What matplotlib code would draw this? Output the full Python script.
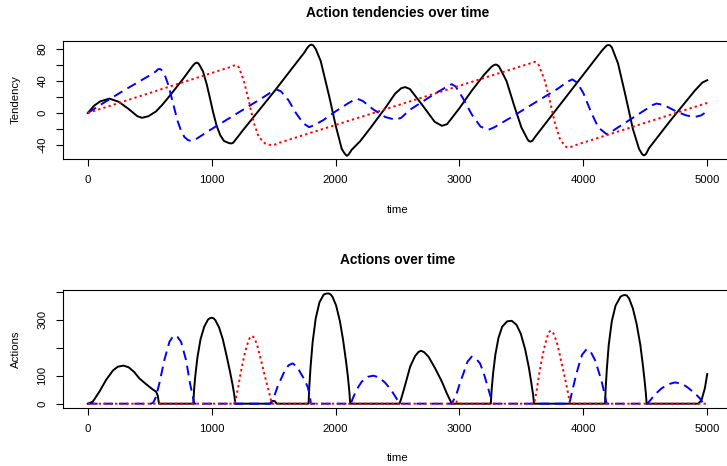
import matplotlib
matplotlib.use("Agg")
import matplotlib.pyplot as plt

plt.rcParams['font.family'] = ['Liberation Sans', 'DejaVu Sans']

# ---------------- data: action tendencies (time, value) ----------------
tend_black = [(0, 0), (50, 9), (100, 14.5), (175, 18), (250, 14), (330, 5), (400, -4), (438, -6), (490, -4),
              (551, 2), (600, 10), (659, 21), (766, 42), (847, 59), (865, 62), (879, 63), (893, 62), (905, 59),
              (930, 52), (960, 36), (990, 16), (1010, 2), (1040, -16), (1070, -28), (1100, -35), (1130, -37),
              (1145, -37.8), (1161, -38), (1175, -37), (1190, -34), (1250, -22), (1500, 26), (1750, 76),
              (1772, 81.5), (1790, 84.5), (1806, 85.5), (1820, 84.5), (1840, 80), (1880, 65), (1950, 20),
              (2000, -15), (2050, -45), (2075, -51), (2091, -53.5), (2105, -52), (2130, -46), (2200, -35),
              (2280, -19), (2400, 6), (2480, 24), (2530, 31), (2562, 32.4), (2600, 30), (2700, 10), (2800, -11),
              (2858, -16), (2900, -14), (2950, -4), (3000, 6), (3100, 28), (3200, 48), (3260, 58), (3280, 60),
              (3293, 60.6), (3305, 60), (3320, 58), (3380, 40), (3440, 10), (3500, -18), (3550, -33),
              (3560, -35), (3575, -35.8), (3590, -34.5), (3610, -30), (3800, 8), (4000, 48), (4150, 78),
              (4180, 83), (4190, 84.5), (4202, 85), (4215, 84.5), (4230, 82), (4280, 62), (4340, 22),
              (4400, -20), (4450, -45), (4475, -51.5), (4489, -53), (4505, -51.5), (4530, -44), (4700, -10),
              (4900, 28), (4960, 38), (5000, 41)]

tend_blue = [(0, 0), (100, 10), (300, 29), (500, 47), (550, 52), (565, 54.5), (578, 55), (590, 54.5),
             (600, 53), (625, 46), (650, 35), (675, 20), (700, 5), (725, -10), (750, -21), (780, -30),
             (810, -34), (841, -35), (880, -32), (1000, -20), (1200, -1), (1400, 18), (1480, 26), (1524, 29.5),
             (1560, 27), (1620, 16), (1680, 0), (1740, -13), (1787, -17.7), (1830, -15), (1900, -9), (2000, 2),
             (2100, 12), (2150, 16.5), (2177, 17.7), (2220, 15), (2300, 5), (2400, -5), (2481, -8.4),
             (2530, -6), (2600, 4), (2800, 24), (2900, 33), (2938, 36), (2970, 33), (3030, 18), (3100, -2),
             (3170, -17), (3234, -21), (3280, -18), (3400, -7), (3600, 12), (3800, 31), (3870, 39),
             (3911, 42), (3950, 38), (4000, 25), (4060, 2), (4120, -18), (4188, -26.5), (4230, -23),
             (4400, -6), (4500, 4), (4560, 10), (4591, 11.8), (4650, 10), (4750, 2), (4830, -3), (4900, -5),
             (4950, -3), (5000, 2)]

tend_red = [(0, 0), (1150, 57.5), (1180, 59.3), (1196, 60), (1208, 59), (1220, 57), (1260, 40), (1300, 15),
            (1340, -12), (1380, -30), (1430, -38), (1465, -39.7), (1486, -40), (1510, -39.5), (1550, -37),
            (3560, 61.5), (3595, 63.2), (3610, 64), (3622, 63), (3640, 60), (3690, 40), (3730, 15),
            (3770, -12), (3810, -32), (3850, -41), (3865, -42.7), (3879, -43), (3900, -42.4), (3930, -40.5),
            (5000, 12.6)]

# ---------------- data: actions (time, value) ----------------
act_black = [(0, 0), (40, 7), (94, 43), (148, 85), (202, 118), (242, 132), (288, 136), (330, 130),
             (375, 113), (417, 90), (470, 70), (524, 51), (551, 43), (565, 28), (575, 0),
             (852, 0), (858, 50), (868, 100), (885, 165), (910, 230), (940, 275), (970, 300), (985, 305),
             (1000, 307), (1015, 305), (1030, 298), (1060, 272), (1090, 230), (1120, 172), (1150, 110),
             (1170, 65), (1183, 30), (1191, 0),
             (1470, 0), (1490, 10), (1510, 9), (1525, 0),
             (1782, 0), (1788, 60), (1798, 130), (1815, 220), (1840, 305), (1870, 362), (1905, 390),
             (1925, 393), (1941, 394), (1958, 391), (1975, 382), (2005, 350), (2035, 295), (2060, 230),
             (2085, 150), (2100, 95), (2112, 40), (2118, 0),
             (2516, 0), (2530, 18), (2562, 67), (2602, 132), (2642, 170), (2670, 185), (2691, 189),
             (2715, 184), (2750, 168), (2804, 126), (2858, 79), (2898, 37), (2925, 12), (2938, 0),
             (3253, 0), (3260, 50), (3272, 110), (3290, 175), (3315, 235), (3345, 275), (3385, 294),
             (3422, 296), (3460, 282), (3495, 250), (3530, 195), (3560, 130), (3580, 75), (3595, 30),
             (3602, 0),
             (4175, 0), (4181, 60), (4190, 125), (4205, 210), (4230, 295), (4260, 350), (4300, 382),
             (4320, 387), (4336, 388), (4352, 386), (4370, 375), (4400, 340), (4430, 285), (4460, 210),
             (4480, 140), (4495, 80), (4505, 35), (4511, 0),
             (4927, 0), (4954, 13), (4981, 55), (5000, 106)]

act_blue = [(0, 0), (511, 0), (530, 5), (551, 25), (578, 73), (618, 156), (659, 221), (684, 238), (704, 244),
            (725, 238), (753, 221), (793, 156), (825, 73), (848, 25), (860, 0),
            (1478, 0), (1500, 20), (1532, 61), (1586, 114), (1620, 137), (1653, 144), (1690, 132),
            (1720, 108), (1750, 85), (1774, 61), (1790, 35), (1801, 0),
            (2124, 0), (2140, 20), (2170, 50), (2210, 78), (2260, 96), (2306, 100), (2350, 94), (2400, 75),
            (2450, 48), (2490, 20), (2516, 0),
            (2938, 0), (2955, 15), (2978, 37), (3005, 75), (3032, 108), (3065, 150), (3099, 168),
            (3135, 160), (3166, 144), (3195, 110), (3220, 73), (3248, 30), (3269, 0),
            (3887, 0), (3900, 25), (3919, 61), (3940, 100), (3960, 132), (3990, 175), (4027, 195),
            (4060, 185), (4094, 156), (4120, 120), (4148, 79), (4170, 38), (4188, 0),
            (4516, 0), (4540, 12), (4564, 25), (4600, 42), (4632, 55), (4690, 70), (4739, 76), (4790, 72),
            (4833, 61), (4870, 48), (4900, 37), (4941, 19), (4968, 0), (5000, 0)]

act_red = [(0, 0), (1183, 0), (1195, 20), (1210, 49), (1230, 100), (1250, 144), (1270, 185), (1290, 215),
           (1308, 236), (1323, 242), (1338, 238), (1350, 230), (1371, 203), (1390, 170), (1411, 132),
           (1430, 97), (1452, 61), (1470, 28), (1486, 0),
           (2940, 0), (2960, 10), (2975, 8), (2990, 0),
           (3602, 0), (3612, 20), (3624, 49), (3645, 110), (3664, 156), (3685, 200), (3704, 233),
           (3722, 255), (3737, 261), (3750, 257), (3760, 250), (3785, 221), (3805, 185), (3825, 144),
           (3845, 105), (3866, 61), (3880, 30), (3892, 0), (5000, 0)]

x_ticks = [0, 1000, 2000, 3000, 4000, 5000]
tend_yticks = [-40, -20, 0, 20, 40, 60, 80]
tend_ylabels = ["-40", "", "0", "", "40", "", "80"]
act_yticks = [0, 100, 200, 300, 400]
act_ylabels = ["0", "100", "", "300", ""]

# ---------------- figure ----------------
W, H = 727, 466
fig = plt.figure(figsize=(W / 100, H / 100), dpi=100)


def rect(x0, y0, x1, y1):
    return [x0 / W, 1 - y1 / H, (x1 - x0) / W, (y1 - y0) / H]


ax1 = fig.add_axes(rect(63, 41, 732, 159))
ax2 = fig.add_axes(rect(63, 290, 732, 408))

lw = 1.4
blue_dash = (0, (5, 3))
red_dot = (0, (1.2, 1.6))


def draw(ax, series, color, ls):
    t = [p[0] for p in series]
    v = [p[1] for p in series]
    ax.plot(t, v, color=color, lw=lw, linestyle=ls, solid_joinstyle='round',
            dash_joinstyle='round')


def style(ax):
    for s in ax.spines.values():
        s.set_linewidth(0.8)
        s.set_color('black')
    ax.tick_params(direction='out', length=4.8, width=0.8, labelsize=8.2, pad=6.5,
                   top=False, right=False, colors='black')
    ax.set_xticks(x_ticks)
    ax.set_xticklabels([str(v) for v in x_ticks])
    ax.set_xlim(-200, 5200)


draw(ax1, tend_black, 'black', '-')
draw(ax1, tend_blue, 'blue', blue_dash)
draw(ax1, tend_red, 'red', red_dot)
style(ax1)
ax1.set_ylim(-57.5, 90)
ax1.set_yticks(tend_yticks)
ax1.set_yticklabels(tend_ylabels, rotation=90, va='center')

draw(ax2, act_black, 'black', '-')
draw(ax2, act_blue, 'blue', blue_dash)
draw(ax2, act_red, 'red', red_dot)
style(ax2)
ax2.set_ylim(-15.4, 406)
ax2.set_yticks(act_yticks)
ax2.set_yticklabels(act_ylabels, rotation=90, va='center')

cx = 397.5 / W
fig.text(cx, 1 - 13 / H, "Action tendencies over time", ha='center', va='center',
         fontsize=9.9, fontweight='bold')
fig.text(cx, 1 - 260 / H, "Actions over time", ha='center', va='center',
         fontsize=9.9, fontweight='bold')
fig.text(cx, 1 - 210 / H, "time", ha='center', va='center', fontsize=8.2)
fig.text(cx, 1 - 458 / H, "time", ha='center', va='center', fontsize=8.2)
fig.text(15.5 / W, 1 - 100 / H, "Tendency", ha='center', va='center', rotation=90, fontsize=8.2)
fig.text(15.5 / W, 1 - 349 / H, "Actions", ha='center', va='center', rotation=90, fontsize=8.2)

fig.savefig("out.png", dpi=100)
